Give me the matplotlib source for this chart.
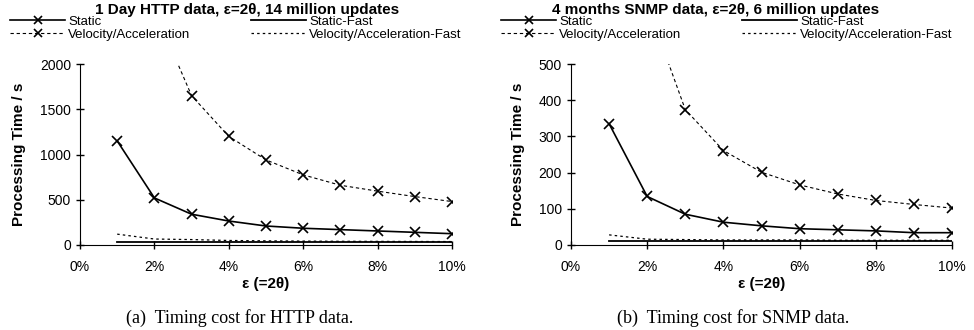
import matplotlib
matplotlib.use("Agg")
import matplotlib.pyplot as plt
from matplotlib.ticker import FuncFormatter

plt.rcParams['font.family'] = ['Liberation Sans', 'DejaVu Sans']

eps = [1, 2, 3, 4, 5, 6, 7, 8, 9, 10]  # epsilon in %

# HTTP data (1 day, 14 million updates)
http_static = [1150, 520, 340, 265, 210, 185, 170, 155, 140, 125]
http_static_fast = [37, 37, 37, 37, 37, 37, 37, 37, 37, 37]
http_va = [None, 2600, 1650, 1200, 940, 775, 660, 595, 535, 480]
http_va_fast = [120, 66, 60, 50, 46, 43, 41, 40, 39, 38]

# SNMP data (4 months, 6 million updates)
snmp_static = [335, 134, 85, 63, 53, 45, 42, 39, 34, 34]
snmp_static_fast = [12, 12, 12, 12, 12, 12, 12, 12, 12, 12]
snmp_va = [None, 665, 374, 261, 201, 166, 141, 123, 112, 102]
snmp_va_fast = [28, 16, 15, 14, 14, 14, 13, 13, 13, 13]

titles = ["1 Day HTTP data, \u03b5=2\u03b8, 14 million updates",
          "4 months SNMP data, \u03b5=2\u03b8, 6 million updates"]
captions = ["(a)  Timing cost for HTTP data.", "(b)  Timing cost for SNMP data."]
ymax = [2000, 500]
yticks = [[0, 500, 1000, 1500, 2000], [0, 100, 200, 300, 400, 500]]

fig = plt.figure(figsize=(9.74, 3.30), dpi=100)
W, H = 974.0, 330.0
axes = [fig.add_axes([80 / W, 85 / H, 372 / W, 181 / H]),
        fig.add_axes([571 / W, 85 / H, 381 / W, 181 / H])]

data = [(http_static, http_static_fast, http_va, http_va_fast),
        (snmp_static, snmp_static_fast, snmp_va, snmp_va_fast)]

title_x = [247, 716]
cap_x = [240, 733]
leg_x = [10, 501]

for i, ax in enumerate(axes):
    st, stf, va, vaf = data[i]
    va_x = [e for e, v in zip(eps, va) if v is not None]
    va_y = [v for v in va if v is not None]
    l1, = ax.plot(eps, st, color='black', lw=1.2, marker='x', ms=7, mew=1.2,
                  label='Static')
    l2, = ax.plot(eps, stf, color='black', lw=1.3, label='Static-Fast')
    l3, = ax.plot(va_x, va_y, color='black', lw=0.8, ls=(0, (3, 2.5)),
                  marker='x', ms=7, mew=1.2, label='Velocity/Acceleration')
    l4, = ax.plot(eps, vaf, color='black', lw=0.9, ls=(0, (2, 2.5)),
                  label='Velocity/Acceleration-Fast')

    ax.set_xlim(0, 10)
    ax.set_ylim(0, ymax[i])
    ax.set_xticks([0, 2, 4, 6, 8, 10])
    ax.set_yticks(yticks[i])
    ax.xaxis.set_major_formatter(FuncFormatter(lambda v, p: '%d%%' % v))
    ax.spines['top'].set_visible(False)
    ax.spines['right'].set_visible(False)
    ax.tick_params(direction='inout', length=6, width=1, labelsize=10)
    ax.tick_params(axis='x', pad=8)
    ax.set_ylabel('Processing Time / s', fontsize=11, fontweight='bold',
                  labelpad=10)
    ax.set_xlabel('\u03b5 (=2\u03b8)', fontsize=11, fontweight='bold', labelpad=2)

    fig.text(title_x[i] / W, 1 - 10 / H, titles[i], ha='center', va='center',
             fontsize=11, fontweight='bold')
    fig.text(cap_x[i] / W, 1 - 318 / H, captions[i], ha='center', va='center',
             fontsize=13, family='Liberation Serif')

    ax.legend(handles=[l1, l3, l2, l4], ncol=2, loc='upper left',
              bbox_to_anchor=(leg_x[i] / W, 1 - 15.5 / H),
              bbox_transform=fig.transFigure, frameon=False, fontsize=9.5,
              handlelength=4.2, handletextpad=0.2, columnspacing=4.6,
              labelspacing=0.05, borderpad=0, borderaxespad=0, numpoints=1,
              markerscale=0.85)

fig.savefig('out.png', dpi=100)
